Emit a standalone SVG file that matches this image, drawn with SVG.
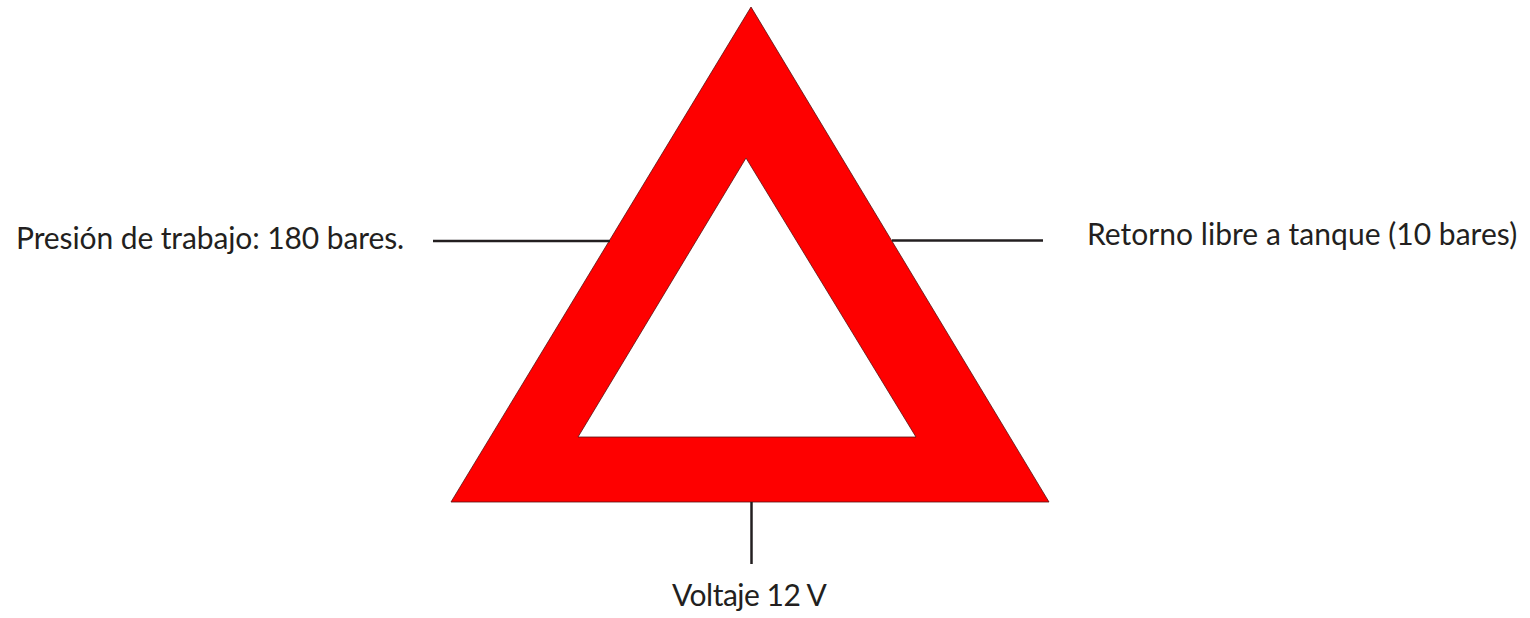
<svg xmlns="http://www.w3.org/2000/svg" width="1530" height="618" viewBox="0 0 1530 618">
<style>
.lbl{font-family:"Lato","Open Sans","Liberation Sans",sans-serif;font-size:30px;fill:#231f20}
.c{stroke:#231f20;stroke-width:2.5;fill:none}
</style>
<rect width="1530" height="618" fill="#fff"/>
<g id="triangle"><path d="M751 7L1049 502H451ZM746 158L578 437H916Z" fill="#fe0000" fill-rule="evenodd" stroke="#5a1010" stroke-width="0.8"/></g>
<g id="connectors">
<path class="c" d="M433 241H610"/>
<path class="c" d="M892 240.500H1043"/>
<path class="c" d="M751.500 502V564"/>
</g>
<g id="label-presion"><text class="lbl" x="16" y="249" letter-spacing="-0.1">Presión de trabajo: 180 bares.</text></g>
<g id="label-retorno"><text class="lbl" x="1087" y="245" letter-spacing="0.03">Retorno libre a tanque (10 bares)</text></g>
<g id="label-voltaje"><text class="lbl" x="672" y="606" letter-spacing="-0.5">Voltaje 12 V</text></g>
</svg>
